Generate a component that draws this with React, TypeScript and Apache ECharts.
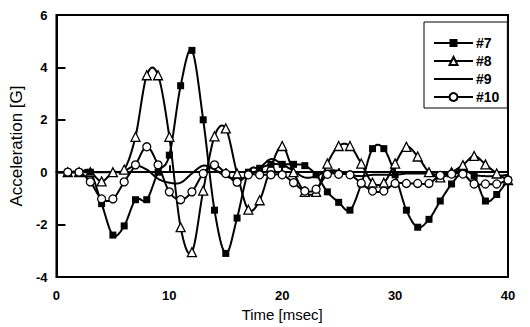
import React, { useEffect, useRef } from "react";
import * as echarts from "echarts";

const times = [0,1,2,3,4,5,6,7,8,9,10,11,12,13,14,15,16,17,18,19,20,21,22,23,24,25,26,27,28,29,30,31,32,33,34,35,36,37,38,39,40];
const s7 = [0,0,0,0,-1.2,-2.4,-2.05,-1.05,-1.05,0,0.65,3.3,4.65,2.0,-1.45,-3.1,-1.75,0,0.15,0.3,0.3,0.3,0.25,-0.1,-0.75,-1.15,-1.45,-0.45,0.9,0.9,-0.1,-1.45,-2.1,-1.8,-1.1,-0.45,0,-0.15,-1.1,-0.85,-0.3];
const s8 = [0,0,0,0,-0.35,0,0.1,1.35,3.7,3.7,1.35,-2.1,-3.05,-0.7,1.37,1.67,-0.05,-1.43,-1.07,0.2,1.0,0,-0.75,-0.75,0.33,1.0,1.0,0.33,-0.4,-0.4,0.33,0.97,0.6,0,-0.2,0,0.27,0.62,0.3,-0.05,-0.3];
const s9 = [0,0,0,0,0,0,0.05,0.25,0.1,-0.25,-0.4,-0.4,-0.05,0.25,0.1,-0.15,-0.25,-0.15,0.15,0.5,0.3,0.05,-0.2,-0.15,0.05,0.05,-0.1,-0.15,-0.1,-0.1,-0.1,-0.05,-0.05,-0.05,-0.1,0,0.1,-0.1,-0.15,-0.15,-0.1];
const s10 = [0,0,0,-0.37,-1.02,-1.02,-0.37,0.28,0.97,0.28,-0.75,-1.05,-0.75,-0.05,0.28,-0.05,-0.38,-0.1,-0.1,-0.1,-0.1,-0.4,-0.72,-0.65,-0.08,-0.08,-0.1,-0.42,-0.72,-0.72,-0.43,-0.43,-0.43,-0.43,-0.12,-0.07,-0.07,-0.45,-0.45,-0.45,-0.3];
const seriesNames = ["#7", "#8", "#9", "#10"];
const xTicks = [0, 10, 20, 30, 40];
const yTicks = [-4, -2, 0, 2, 4, 6];

const FONT = "Liberation Sans, Arial, sans-serif";

function toData(vals: number[]) {
  return times.map((t, i) => (i === 0 ? { value: [t, vals[i]], symbol: "none" } : [t, vals[i]]));
}

// smooth (Catmull-Rom) curve drawn in pixel space from the library's own coordinates
function curveSeries(vals: number[], z: number) {
  return {
    type: "custom",
    silent: true,
    z,
    data: times.map((t, i) => [t, vals[i]]),
    encode: { x: 0, y: 1 },
    renderItem: (params: any, api: any) => {
      if (params.dataIndex !== 0) return null;
      const p = times.map((t, i) => api.coord([t, vals[i]]));
      const pts: number[][] = [];
      const n = p.length;
      const steps = 12;
      for (let i = 0; i < n - 1; i++) {
        const p0 = p[Math.max(0, i - 1)];
        const p1 = p[i];
        const p2 = p[i + 1];
        const p3 = p[Math.min(n - 1, i + 2)];
        const c1 = [p1[0] + (p2[0] - p0[0]) / 6, p1[1] + (p2[1] - p0[1]) / 6];
        const c2 = [p2[0] - (p3[0] - p1[0]) / 6, p2[1] - (p3[1] - p1[1]) / 6];
        for (let s = 0; s < steps; s++) {
          const u = s / steps;
          const a = (1 - u) * (1 - u) * (1 - u);
          const b = 3 * (1 - u) * (1 - u) * u;
          const c = 3 * (1 - u) * u * u;
          const d = u * u * u;
          pts.push([
            a * p1[0] + b * c1[0] + c * c2[0] + d * p2[0],
            a * p1[1] + b * c1[1] + c * c2[1] + d * p2[1],
          ]);
        }
      }
      pts.push(p[n - 1]);
      return {
        type: "polyline",
        shape: { points: pts },
        style: { stroke: "#000", lineWidth: 2, fill: null },
        silent: true,
      };
    },
  };
}

export default function App() {
  const ref = useRef<HTMLDivElement>(null);
  useEffect(() => {
    document.body.style.margin = "0";
    const chart = echarts.init(ref.current!, null, { renderer: "svg" });
    const base = {
      type: "line",
      lineStyle: { color: "#000", width: 2, opacity: 0 },
      itemStyle: { color: "#fff", borderColor: "#000", borderWidth: 1.3 },
    };
    chart.setOption({
      animation: false,
      backgroundColor: "#fff",
      grid: { left: 54, right: 22, top: 15, bottom: 50, show: true, borderColor: "#000", borderWidth: 2, backgroundColor: "transparent" },
      legend: {
        orient: "vertical",
        left: 424,
        top: 22,
        padding: [14, 8, 4, 9],
        borderColor: "#000",
        borderWidth: 1,
        backgroundColor: "#fff",
        itemWidth: 39,
        itemHeight: 10,
        itemGap: 4,
        lineStyle: { color: "#000", width: 2, opacity: 1 },
        textStyle: { fontFamily: FONT, fontSize: 14, fontWeight: "bold", color: "#000", padding: [0, 0, 0, -2] },
        data: [
          { name: seriesNames[0] },
          { name: seriesNames[1] },
          { name: seriesNames[2], itemStyle: { color: "rgba(0,0,0,0)", borderColor: "rgba(0,0,0,0)", borderWidth: 0 } },
          { name: seriesNames[3] },
        ],
      },
      xAxis: {
        type: "value",
        min: xTicks[0],
        max: xTicks[xTicks.length - 1],
        interval: 10,
        name: "Time [msec]",
        nameLocation: "middle",
        nameGap: 27,
        nameTextStyle: { fontFamily: FONT, fontSize: 15, color: "#000" },
        axisLine: { lineStyle: { color: "#000", width: 2 } },
        axisTick: { inside: true, length: 7, lineStyle: { color: "#000", width: 2 } },
        minorTick: { show: true, splitNumber: 2, length: 4, lineStyle: { color: "#000", width: 2 } },
        splitLine: { show: false },
        axisLabel: { fontFamily: FONT, fontSize: 13, fontWeight: "bold", color: "#000", margin: 12 },
      },
      yAxis: {
        type: "value",
        min: yTicks[0],
        max: yTicks[yTicks.length - 1],
        interval: 2,
        name: "Acceleration [G]",
        nameLocation: "middle",
        nameGap: 25,
        nameTextStyle: { fontFamily: FONT, fontSize: 17, color: "#000" },
        axisLine: { lineStyle: { color: "#000", width: 2 } },
        axisTick: { inside: true, length: 9, lineStyle: { color: "#000", width: 2 } },
        splitLine: { show: false },
        axisLabel: { fontFamily: FONT, fontSize: 13, fontWeight: "bold", color: "#000", margin: 9 },
      },
      series: [
        curveSeries(s9, 1),
        curveSeries(s7, 1),
        curveSeries(s8, 1),
        curveSeries(s10, 1),
        { ...base, name: seriesNames[0], symbol: "rect", symbolSize: 7, itemStyle: { color: "#000", borderColor: "#000", borderWidth: 0 }, data: toData(s7), z: 5 },
        { ...base, name: seriesNames[1], symbol: "triangle", symbolSize: 9, data: toData(s8), z: 4 },
        { ...base, name: seriesNames[2], symbol: "none", showSymbol: false, data: toData(s9), z: 3 },
        { ...base, name: seriesNames[3], symbol: "circle", symbolSize: 8, data: toData(s10), z: 6 },
      ],
    });
    return () => chart.dispose();
  }, []);
  return <div ref={ref} style={{ width: 530, height: 327, position: "absolute", left: 0, top: 0 }} />;
}
